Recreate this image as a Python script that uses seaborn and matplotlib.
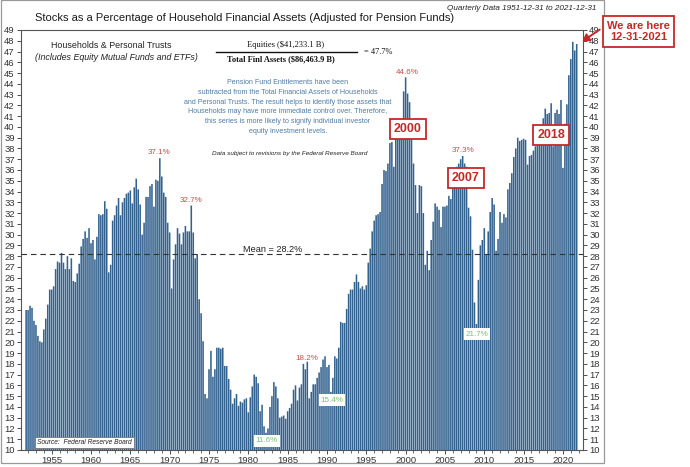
import numpy as np
import pandas as pd
import matplotlib
matplotlib.use("Agg")
import matplotlib.pyplot as plt
import seaborn as sns
from matplotlib.patches import Rectangle

# ---------------- data (quarterly, 1951-12-31 .. 2021-12-31) ----------------
first_quarter_end = "1951-12-31"
share_1951_1959 = [23.0,
                   23.0, 23.4, 23.2, 22.0,
                   21.6, 20.6, 20.1, 20.0,
                   21.2, 22.2, 23.5, 24.9,
                   24.9, 25.2, 26.8, 27.5,
                   27.4, 28.3, 27.4, 26.8,
                   28.0, 26.8, 27.8, 25.7,
                   25.6, 26.4, 27.3, 28.9,
                   29.6, 30.3, 29.7, 30.6]
share_1960s = [29.2, 29.5, 27.7, 29.8,
               31.9, 31.8, 31.9, 33.1,
               32.4, 26.5, 27.2, 31.3,
               31.8, 32.7, 33.4, 31.8,
               33.0, 33.4, 33.8, 33.9,
               34.1, 32.9, 34.4, 35.2,
               34.2, 32.8, 30.0, 31.1,
               33.5, 33.5, 34.5, 34.7,
               32.6, 35.1, 35.0, 37.1,
               35.4, 33.9, 33.5, 31.1]
share_1970s = [30.2, 25.0, 27.7, 29.1,
               30.6, 30.1, 29.1, 30.2,
               30.8, 30.3, 30.3, 32.7,
               30.2, 27.8, 28.2, 24.0,
               22.7, 20.1, 15.2, 14.8,
               17.5, 19.2, 16.8, 17.5,
               19.5, 19.5, 19.4, 19.5,
               17.8, 17.8, 16.6, 15.6,
               14.3, 14.8, 15.2, 14.1,
               14.5, 14.4, 14.7, 14.8]
share_1980s = [13.5, 14.9, 15.9, 17.0,
               16.8, 16.2, 13.6, 14.2,
               12.2, 11.6, 12.0, 14.0,
               15.0, 16.3, 15.9, 14.8,
               13.0, 13.1, 13.2, 12.9,
               13.6, 13.9, 14.3, 15.6,
               16.0, 14.6, 15.8, 16.1,
               18.0, 17.5, 18.2, 14.8,
               15.4, 16.1, 16.1, 16.7,
               17.2, 17.7, 18.4, 18.7]
share_1990s = [17.7, 17.9, 15.4, 16.7,
               18.7, 18.5, 19.5, 21.9,
               21.8, 21.8, 23.1, 24.5,
               24.9, 24.9, 25.6, 26.3,
               25.6, 25.0, 25.2, 24.9,
               25.3, 27.4, 28.7, 30.3,
               31.3, 31.8, 31.9, 32.1,
               34.7, 36.0, 35.9, 36.6,
               38.5, 38.6, 36.3, 39.5,
               40.2, 40.6, 39.6, 43.3]
share_2000s = [44.6, 43.1, 42.3, 38.8,
               36.6, 34.6, 32.0, 34.6,
               34.5, 32.0, 27.2, 28.5,
               26.7, 29.5, 31.2, 32.9,
               32.6, 32.3, 30.7, 32.6,
               32.6, 32.7, 33.6, 33.3,
               34.5, 35.4, 36.3, 36.6,
               37.0, 37.3, 36.6, 36.3,
               32.5, 31.7, 28.6, 23.7,
               21.7, 25.8, 29.0, 29.5]
share_2010s = [30.6, 28.2, 30.3, 32.1,
               33.4, 32.8, 28.5, 29.6,
               32.1, 31.1, 31.9, 31.6,
               34.2, 34.8, 35.7, 37.2,
               38.0, 39.0, 38.7, 38.8,
               38.9, 38.8, 36.5, 37.3,
               37.4, 37.8, 38.2, 38.5,
               39.3, 40.1, 40.8, 41.7,
               41.2, 41.3, 42.2, 38.2,
               41.3, 41.6, 41.2, 42.5]
share_2020s = [36.2, 40.3, 42.1, 44.8,
               46.3, 47.9, 47.1, 47.7]

mean_value = 28.2
y_ticks = list(range(10, 50))
x_tick_years = list(range(1955, 2021, 5))

values = share_1951_1959 + share_1960s + share_1970s + share_1980s + share_1990s + share_2000s + share_2010s + share_2020s
quarters = pd.date_range(first_quarter_end, periods=len(values), freq="QE")
df = pd.DataFrame({"x": quarters.year + (quarters.quarter - 1) / 4.0, "share": values})

# ---------------- figure ----------------
W, H = 690, 467
fig = plt.figure(figsize=(W / 100, H / 100), dpi=100)
fig.patch.set_facecolor("white")

def px(x, y):
    return x / W, 1 - y / H

plt.rcParams["font.family"] = ["Liberation Sans", "DejaVu Sans"]

ax_l, ax_r, ax_t, ax_b = 21, 583, 30, 450
ax = fig.add_axes([ax_l / W, 1 - ax_b / H, (ax_r - ax_l) / W, (ax_b - ax_t) / H])

sns.barplot(data=df, x="x", y="share", native_scale=True, width=0.8,
            color="#33628f", saturation=1, edgecolor="none", linewidth=0,
            errorbar=None, ax=ax)
for p in ax.patches:
    p.set_snap(False)

ax.set_xlim(1951.1, 2022.55)
ax.set_ylim(10, 49)
ax.set_yticks(y_ticks)
ax.set_xticks(x_tick_years)
ax.set_xticks(np.arange(1952, 2023, 1), minor=True)
ax.set_xlabel("")
ax.set_ylabel("")
ax.tick_params(axis="y", which="both", left=True, right=True, labelleft=True, labelright=True,
               labelsize=6.8, length=3, width=0.6, pad=1.5, colors="#333333")
ax.tick_params(axis="x", which="major", labelsize=6.8, length=3, width=0.6, pad=1.5, colors="#333333")
ax.tick_params(axis="x", which="minor", length=1.8, width=0.5, colors="#333333")
for s in ax.spines.values():
    s.set_color("#555555")
    s.set_linewidth(0.8)

ax.axhline(mean_value, color="#333333", lw=0.8, ls=(0, (5, 3.5)), zorder=3)

# outer frame
fig.patches.append(Rectangle((0.001, 1 - 463 / H), 603 / W, 463 / H - 0.001,
                             transform=fig.transFigure, fill=False, edgecolor="#999999", lw=0.9))

# ---------------- texts ----------------
fig.text(*px(35, 18), "Stocks as a Percentage of Household Financial Assets (Adjusted for Pension Funds)",
         ha="left", va="center", fontsize=8.0, color="#1a1a1a")
fig.text(*px(596, 8), "Quarterly Data 1951-12-31 to 2021-12-31", ha="right", va="center",
         fontsize=5.9, style="italic", color="#222222")

fig.text(*px(111, 45), "Households & Personal Trusts", ha="center", va="center", fontsize=6.4, color="#222222")
fig.text(*px(116, 57), "(Includes Equity Mutual Funds and ETFs)", ha="center", va="center",
         fontsize=6.4, style="italic", color="#222222")

SERIF = ["Liberation Serif", "DejaVu Serif"]
fig.text(*px(286, 45), "Equities ($41,233.1 B)", ha="center", va="center", fontsize=6.0,
         family=SERIF, color="#111111")
fig.lines.append(plt.Line2D([216 / W, 357 / W], [1 - 51.5 / H, 1 - 51.5 / H], transform=fig.transFigure,
                            color="#111111", lw=1.0))
fig.text(*px(281, 59), "Total Finl Assets ($86,463.9 B)", ha="center", va="center", fontsize=6.0,
         family=SERIF, color="#111111", weight="bold")
fig.text(*px(364, 52), "= 47.7%", ha="left", va="center", fontsize=6.0, family=SERIF, color="#111111")

para = ("Pension Fund Entitlements have been\n"
        "subtracted from the Total Financial Assets of Households\n"
        "and Personal Trusts. The result helps to identify those assets that\n"
        "Households may have more immediate control over. Therefore,\n"
        "this series is more likely to signify individual investor\n"
        "equity investment levels.")
fig.text(*px(288, 107), para, ha="center", va="center", fontsize=5.1, color="#4f7ba5",
         linespacing=1.55)
fig.text(*px(290, 153), "Data subject to revisions by the Federal Reserve Board", ha="center", va="center",
         fontsize=4.6, style="italic", color="#222222")

fig.text(*px(273, 249), "Mean = 28.2%", ha="center", va="center", fontsize=6.6, color="#222222")

RED = "#c0504d"
GREEN = "#7cc06a"
for (x, y, t) in [(159, 153, "37.1%"), (191, 201, "32.7%"), (407, 73, "44.6%"),
                  (463, 151, "37.3%"), (307, 358, "18.2%")]:
    fig.text(*px(x, y), t, ha="center", va="center", fontsize=5.8, color=RED)
for (x, y, t) in [(267, 441, "11.6%"), (332, 400, "15.4%"), (477, 334, "21.7%")]:
    fig.text(*px(x, y), t, ha="center", va="center", fontsize=5.8, color=GREEN,
             bbox=dict(boxstyle="square,pad=0.25", fc="white", ec="none"))

BOXRED = "#c62828"
for (x, y, t) in [(408, 129, "2000"), (466, 178, "2007"), (551, 135, "2018")]:
    fig.text(*px(x, y), t, ha="center", va="center", fontsize=9.0, weight="bold", color=BOXRED,
             bbox=dict(boxstyle="square,pad=0.35", fc="white", ec=BOXRED, lw=1.3))

fig.text(*px(638.5, 31.5), "We are here\n12-31-2021", ha="center", va="center", fontsize=8.0,
         weight="bold", color=BOXRED, linespacing=1.15,
         bbox=dict(boxstyle="square,pad=0.4", fc="white", ec=BOXRED, lw=1.3))
fig.add_artist(matplotlib.patches.FancyArrowPatch(px(602, 28), px(580, 43), transform=fig.transFigure,
                                                  arrowstyle="-|>,head_length=4,head_width=2.5",
                                                  color=BOXRED, lw=1.4))

fig.text(*px(37, 442.5), "Source:  Federal Reserve Board", ha="left", va="center", fontsize=4.8,
         style="italic", color="#222222",
         bbox=dict(boxstyle="square,pad=0.3", fc="white", ec="#777777", lw=0.6))

fig.savefig("out.png", dpi=100, facecolor="white")
